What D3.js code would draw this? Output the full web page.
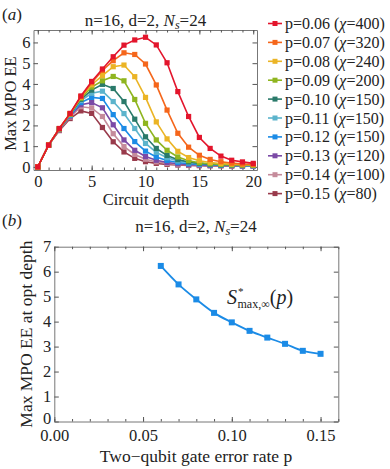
<!DOCTYPE html>
<html>
<head>
<meta charset="utf-8">
<script src="https://cdn.jsdelivr.net/npm/d3@7"></script>
<style>
  body { margin: 0; background: #fff; }
  svg text { font-family: "Liberation Serif", "DejaVu Serif", serif; fill: #222; }
</style>
</head>
<body>
<div id="chart"></div>
<script>
// ---- data ----
var depths = d3.range(0, 21);
var rates = [0.06, 0.07, 0.08, 0.09, 0.10, 0.11, 0.12, 0.13, 0.14, 0.15];
var chis = [400, 320, 240, 200, 150, 150, 150, 120, 100, 80];
var colors = ["#e3152c", "#f5661b", "#ebb425", "#8fb51f", "#2a7a6a", "#5cb4cc", "#1b8be6", "#7b4aa6", "#c58b9b", "#993a4b"];

var ee006 = [0, 1.05, 1.85, 2.58, 3.42, 4.12, 4.72, 5.31, 5.87, 6.12, 6.25, 5.88, 5.02, 3.63, 2.43, 1.42, 0.89, 0.52, 0.32, 0.24, 0.17];
var ee007 = [0, 1.05, 1.85, 2.57, 3.39, 4.06, 4.65, 5.12, 5.50, 5.42, 4.96, 3.95, 2.74, 1.62, 0.95, 0.56, 0.36, 0.25, 0.18, 0.14, 0.12];
var ee008 = [0, 1.05, 1.84, 2.56, 3.36, 3.96, 4.40, 4.83, 4.91, 4.35, 3.35, 2.17, 1.35, 0.75, 0.45, 0.30, 0.21, 0.16, 0.13, 0.11, 0.10];
var ee009 = [0, 1.05, 1.84, 2.55, 3.31, 3.85, 4.15, 4.36, 4.15, 3.25, 2.10, 1.30, 0.80, 0.48, 0.30, 0.20, 0.15, 0.12, 0.10, 0.09, 0.08];
var ee010 = [0, 1.05, 1.83, 2.53, 3.26, 3.70, 3.98, 3.78, 3.15, 2.30, 1.45, 0.89, 0.55, 0.35, 0.24, 0.17, 0.13, 0.10, 0.09, 0.08, 0.07];
var ee011 = [0, 1.05, 1.83, 2.51, 3.20, 3.55, 3.65, 3.15, 2.57, 1.85, 1.13, 0.70, 0.44, 0.29, 0.20, 0.15, 0.12, 0.10, 0.08, 0.07, 0.06];
var ee012 = [0, 1.05, 1.82, 2.48, 3.10, 3.35, 3.30, 2.52, 1.85, 1.22, 0.76, 0.48, 0.31, 0.21, 0.15, 0.12, 0.10, 0.08, 0.07, 0.06, 0.06];
var ee013 = [0, 1.05, 1.80, 2.45, 3.00, 3.10, 2.85, 2.03, 1.30, 0.80, 0.50, 0.32, 0.21, 0.15, 0.11, 0.09, 0.08, 0.07, 0.06, 0.05, 0.05];
var ee014 = [0, 1.05, 1.78, 2.40, 2.90, 2.84, 2.43, 1.60, 0.98, 0.60, 0.37, 0.24, 0.16, 0.12, 0.09, 0.08, 0.07, 0.06, 0.05, 0.05, 0.04];
var ee015 = [0, 1.05, 1.75, 2.33, 2.70, 2.58, 1.90, 1.21, 0.72, 0.41, 0.25, 0.17, 0.12, 0.09, 0.07, 0.06, 0.05, 0.05, 0.04, 0.04, 0.04];
var eeSeries = [ee006, ee007, ee008, ee009, ee010, ee011, ee012, ee013, ee014, ee015];

// panel b: max EE at optimal depth
var maxEE = [6.23, 5.49, 4.89, 4.35, 3.97, 3.63, 3.36, 3.11, 2.83, 2.71];

var yTicksA = [0, 1, 2, 3, 4, 5, 6];
var xTicksA = [0, 5, 10, 15, 20];
var yTicksB = [0, 1, 2, 3, 4, 5, 6, 7];
var xTicksB = [0, 0.05, 0.10, 0.15];

var svg = d3.select("#chart").append("svg")
    .attr("width", 390)
    .attr("height", 469);

// draws a mathematica-like frame with inward ticks
function frame(g, x, y, xMaj, xMin, yMaj, xFmt, yFmt, fs, xPad) {
    var x0 = x.range()[0], x1 = x.range()[1], y0 = y.range()[0], y1 = y.range()[1];

    g.append("g").attr("class", "axis").attr("transform", "translate(0," + y0 + ")")
        .call(d3.axisBottom(x).tickValues(xMaj).tickSizeInner(-4.5).tickSizeOuter(0).tickPadding(xPad).tickFormat(xFmt));
    g.append("g").attr("class", "axis").attr("transform", "translate(" + x0 + ",0)")
        .call(d3.axisLeft(y).tickValues(yMaj).tickSizeInner(-4.5).tickSizeOuter(0).tickPadding(3).tickFormat(yFmt));
    g.append("g").attr("class", "axis").attr("transform", "translate(0," + y1 + ")")
        .call(d3.axisTop(x).tickValues(xMaj).tickSizeInner(-4.5).tickSizeOuter(0).tickFormat(""));
    g.append("g").attr("class", "axis").attr("transform", "translate(" + x1 + ",0)")
        .call(d3.axisRight(y).tickValues(yMaj).tickSizeInner(-4.5).tickSizeOuter(0).tickFormat(""));

    // minor ticks on x
    g.append("g").attr("class", "axis").attr("transform", "translate(0," + y0 + ")")
        .call(d3.axisBottom(x).tickValues(xMin).tickSizeInner(-2.5).tickSizeOuter(0).tickFormat(""))
        .select(".domain").remove();
    g.append("g").attr("class", "axis").attr("transform", "translate(0," + y1 + ")")
        .call(d3.axisTop(x).tickValues(xMin).tickSizeInner(-2.5).tickSizeOuter(0).tickFormat(""))
        .select(".domain").remove();

    g.selectAll(".axis").attr("font-family", null).attr("font-size", null);
    g.selectAll(".axis text")
        .style("font-family", '"Liberation Serif", serif')
        .style("font-size", fs + "px")
        .style("fill", "#222");
    g.selectAll(".axis path").style("stroke", "#777");
    g.selectAll(".axis line").style("stroke", "#555");
}

function titleText(g, cx, y) {
    var t = g.append("text").attr("x", cx).attr("y", y).attr("text-anchor", "middle")
        .style("font-size", "17px");
    t.append("tspan").text("n=16, d=2, ");
    t.append("tspan").style("font-style", "italic").text("N");
    t.append("tspan").style("font-style", "italic").style("font-size", "12px").attr("dy", 3).text("s");
    t.append("tspan").attr("dy", -3).text("=24");
}

// ---------------- panel (a) ----------------
var xa = d3.scaleLinear().domain([-0.4, 20.35]).range([33.5, 257]);
var ya = d3.scaleLinear().domain([-0.15, 6.6]).range([170, 30]);

var ga = svg.append("g");
frame(ga, xa, ya, xTicksA, d3.range(0, 21), yTicksA, d3.format("d"), d3.format("d"), 16.5, 5);

var lineA = d3.line()
    .x(function (d, i) { return xa(depths[i]); })
    .y(function (d) { return ya(d); });

// draw from last series to first so red ends on top
for (var k = eeSeries.length - 1; k >= 0; k--) {
    ga.append("path")
        .datum(eeSeries[k])
        .attr("d", lineA)
        .attr("fill", "none")
        .attr("stroke", colors[k])
        .attr("stroke-width", 1.6);
    ga.selectAll(".pt" + k)
        .data(eeSeries[k])
        .enter().append("rect")
        .attr("x", function (d, i) { return xa(depths[i]) - 2.6; })
        .attr("y", function (d) { return ya(d) - 2.6; })
        .attr("width", 5.2)
        .attr("height", 5.2)
        .attr("fill", colors[k]);
}

titleText(ga, 145.5, 26);

ga.append("text").attr("x", 2).attr("y", 20)
    .style("font-size", "17px")
    .html('(<tspan font-style="italic">a</tspan>)');

ga.append("text")
    .attr("transform", "translate(16," + ya(3.05) + ") rotate(-90)")
    .attr("text-anchor", "middle")
    .style("font-size", "16.5px")
    .text("Max MPO EE");

ga.append("text").attr("x", 146).attr("y", 205)
    .attr("text-anchor", "middle")
    .style("font-size", "16.5px")
    .text("Circuit depth");

// legend
var legend = ga.selectAll(".leg")
    .data(rates)
    .enter().append("g")
    .attr("transform", function (d, i) { return "translate(268," + (23.5 + i * 18.9) + ")"; });

legend.append("line")
    .attr("x1", 0).attr("x2", 14).attr("y1", 0).attr("y2", 0)
    .attr("stroke", function (d, i) { return colors[i]; })
    .attr("stroke-width", 1.6);
legend.append("rect")
    .attr("x", 4.5).attr("y", -2.5).attr("width", 5).attr("height", 5)
    .attr("fill", function (d, i) { return colors[i]; });
var lt = legend.append("text")
    .attr("x", 17).attr("y", 5.5)
    .style("font-size", "16px");
lt.append("tspan").text(function (d) { return "p=" + d3.format(".2f")(d) + " ("; });
lt.append("tspan").style("font-style", "italic").text("χ");
lt.append("tspan").text(function (d, i) { return "=" + chis[i] + ")"; });

// ---------------- panel (b) ----------------
var xb = d3.scaleLinear().domain([0, 0.16]).range([54.3, 338.3]);
var yb = d3.scaleLinear().domain([0, 7]).range([421.5, 246.7]);

var gb = svg.append("g");
frame(gb, xb, yb, xTicksB, d3.range(0, 0.161, 0.01), yTicksB, d3.format(".2f"), d3.format("d"), 16.5, 8);
// lift the y "0" a little so it clears the "0.00" below it
gb.selectAll(".axis .tick text").filter(function (d) { return d === 0 && this.getAttribute("x") < 0; })
    .attr("dy", "0.1em");

var lineB = d3.line()
    .curve(d3.curveMonotoneX)
    .x(function (d, i) { return xb(rates[i]); })
    .y(function (d) { return yb(d); });

gb.append("path")
    .datum(maxEE)
    .attr("d", lineB)
    .attr("fill", "none")
    .attr("stroke", "#1b8be6")
    .attr("stroke-width", 1.8);

gb.selectAll(".ptb")
    .data(maxEE)
    .enter().append("rect")
    .attr("x", function (d, i) { return xb(rates[i]) - 3; })
    .attr("y", function (d) { return yb(d) - 3; })
    .attr("width", 6)
    .attr("height", 6)
    .attr("fill", "#1b8be6");

titleText(gb, 196, 232);

gb.append("text").attr("x", 2).attr("y", 226)
    .style("font-size", "17px")
    .html('(<tspan font-style="italic">b</tspan>)');

gb.append("text")
    .attr("transform", "translate(32," + yb(3.5) + ") rotate(-90)")
    .attr("text-anchor", "middle")
    .style("font-size", "17.5px")
    .text("Max MPO EE at opt depth");

gb.append("text").attr("x", 196).attr("y", 462)
    .attr("text-anchor", "middle")
    .style("font-size", "17.5px")
    .text("Two\u2212qubit gate error rate p");

// annotation S*max,inf(p)
var ann = gb.append("text").attr("x", 227).attr("y", 304).style("font-size", "20px");
ann.append("tspan").style("font-style", "italic").text("S");
ann.append("tspan").style("font-size", "11px").attr("dx", 1).attr("dy", -9).text("*");
ann.append("tspan").style("font-size", "12px").attr("dx", -6).attr("dy", 13).text("max,\u221e");
ann.append("tspan").attr("dy", -4).text("(");
ann.append("tspan").style("font-style", "italic").text("p");
ann.append("tspan").text(")");
</script>
</body>
</html>
